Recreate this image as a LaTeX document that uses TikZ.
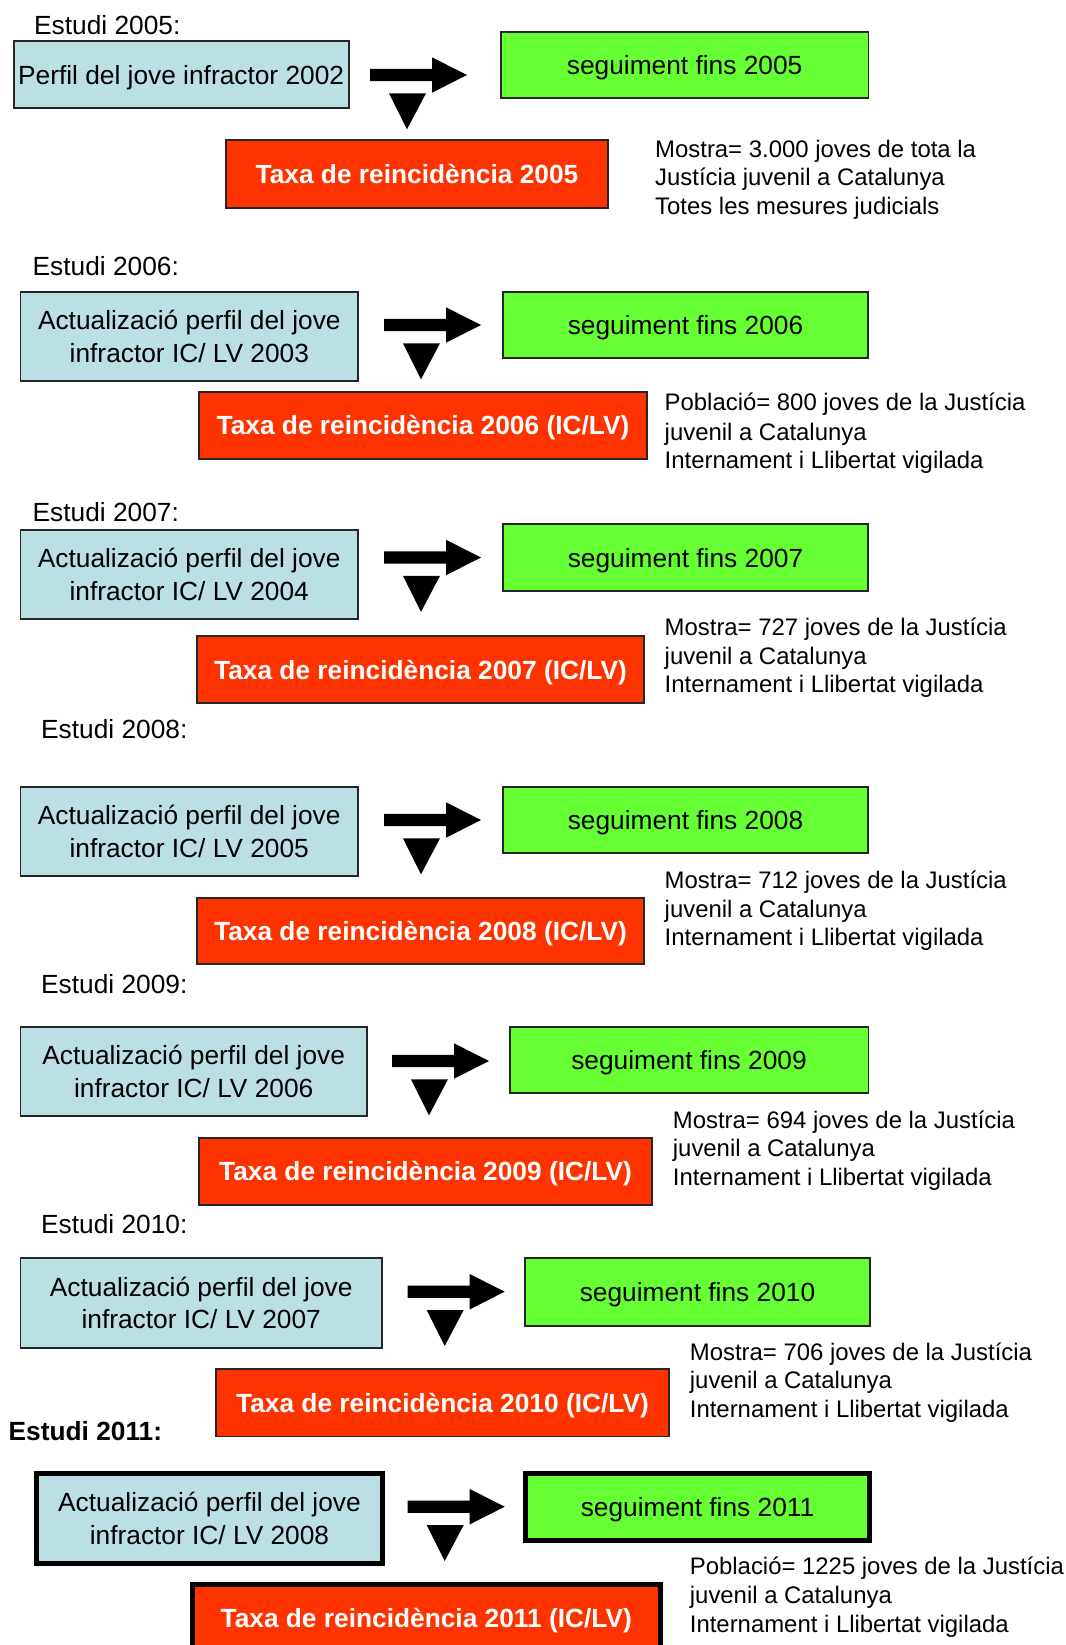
\documentclass[tikz,border=0pt]{standalone}
\usepackage{fontspec}
\setmainfont{Liberation Sans}
\definecolor{bluebox}{RGB}{187,224,227}
\definecolor{greenbox}{RGB}{102,255,51}
\definecolor{redbox}{RGB}{255,51,0}
\newcommand\bigfont{\fontsize{26.3pt}{32.6pt}\selectfont}
\newcommand\notefont{\fontsize{23.9pt}{28.5pt}\selectfont}
\tikzset{
  box/.style={draw=black!85, line width=1.8pt, inner sep=0pt, align=center,
    font=\bigfont, text height=19pt, text depth=0pt},
  twoline/.style={text height=51.6pt, text depth=0pt},
  bluebx/.style={box, fill=bluebox},
  greenbx/.style={box, fill=greenbox},
  redbx/.style={box, fill=redbox, text=white, font=\bigfont\bfseries},
  heavy/.style={line width=5pt, draw=black},
  lbl/.style={anchor=base west, inner sep=0pt, font=\bigfont},
  notel/.style={anchor=base west, inner sep=0pt, font=\notefont},
  blk/.style={fill=black}
}
% style, name, x1, y1, x2, y2, text
\newcommand\bx[7]{\node[#1, minimum width={#5-#3}, minimum height={#6-#4}] (#2) at ({(#3+#5)/2},{(#4+#6)/2}) {#7};}
% name, x, y1, y2, y3, l1, l2, l3
\newcommand\notelines[8]{%
  \node[notel] (#1-a) at (#2,#3) {#6};
  \node[notel] (#1-b) at (#2,#4) {#7};
  \node[notel] (#1-c) at (#2,#5) {#8};}
\newcommand\blockarrows[1]{%
  \fill[blk, shift={(#1)}] (0,-6.2) -- (62,-6.2) -- (62,-17.7) -- (97,0) -- (62,17.7) -- (62,6.2) -- (0,6.2) -- cycle;
  \fill[blk, shift={(#1)}] (19,18.3) -- (56,18.3) -- (37,54.3) -- cycle;}
\begin{document}
\begin{tikzpicture}[x=1pt,y=-1pt]
\useasboundingbox (0,0) rectangle (1065,1645);
\fill[white] (0,0) rectangle (1065,1645);

% ---------- 2005
\node[lbl] (e05) at (34,35) {Estudi 2005:};
\bx{bluebx}{b05}{13.6}{41}{348.6}{108.3}{Perfil del jove infractor 2002}
\bx{greenbx}{g05}{500.8}{32}{868.4}{98.3}{seguiment fins 2005}
\bx{redbx}{r05}{226}{140}{608}{208}{Taxa de reincidència 2005}
\coordinate (a05) at (370,75);
\blockarrows{a05}
\notelines{n05}{655}{157.6}{186}{214.3}{Mostra= 3.000 joves de tota la}{Justícia juvenil a Catalunya}{Totes les mesures judicials}

% ---------- 2006
\node[lbl] (e06) at (32.5,275.5) {Estudi 2006:};
\bx{bluebx,twoline}{b06}{20.4}{291.7}{358.3}{381}{Actualizació perfil del jove\\infractor IC/ LV 2003}
\bx{greenbx}{g06}{503}{291.7}{868}{358.3}{seguiment fins 2006}
\bx{redbx}{r06}{199}{391.7}{647}{459}{Taxa de reincidència 2006 (IC/LV)}
\coordinate (a06) at (384,325);
\blockarrows{a06}
\notelines{n06}{664.5}{410.5}{440}{468}{Població= 800 joves de la Justícia}{juvenil a Catalunya}{Internament i Llibertat vigilada}

% ---------- 2007
\node[lbl] (e07) at (32.5,521) {Estudi 2007:};
\bx{bluebx,twoline}{b07}{20.4}{530}{358}{619.3}{Actualizació perfil del jove\\infractor IC/ LV 2004}
\bx{greenbx}{g07}{503}{524.3}{868}{591}{seguiment fins 2007}
\bx{redbx}{r07}{197}{636}{644}{703.3}{Taxa de reincidència 2007 (IC/LV)}
\coordinate (a07) at (384,557.5);
\blockarrows{a07}
\notelines{n07}{664.5}{635}{664.4}{692.7}{Mostra= 727 joves de la Justícia}{juvenil a Catalunya}{Internament i Llibertat vigilada}

% ---------- 2008
\node[lbl] (e08) at (41,738.7) {Estudi 2008:};
\bx{bluebx,twoline}{b08}{20.4}{786.7}{358}{876}{Actualizació perfil del jove\\infractor IC/ LV 2005}
\bx{greenbx}{g08}{503}{786.7}{868}{853.3}{seguiment fins 2008}
\bx{redbx}{r08}{197}{897.7}{644}{964.3}{Taxa de reincidència 2008 (IC/LV)}
\coordinate (a08) at (384,820);
\blockarrows{a08}
\notelines{n08}{664.5}{888}{917.3}{945.6}{Mostra= 712 joves de la Justícia}{juvenil a Catalunya}{Internament i Llibertat vigilada}

% ---------- 2009
\node[lbl] (e09) at (41,993.6) {Estudi 2009:};
\bx{bluebx,twoline}{b09}{20.4}{1026.7}{367}{1116}{Actualizació perfil del jove\\infractor IC/ LV 2006}
\bx{greenbx}{g09}{509.6}{1026.7}{868.4}{1093.3}{seguiment fins 2009}
\bx{redbx}{r09}{199}{1137.7}{652}{1205}{Taxa de reincidència 2009 (IC/LV)}
\coordinate (a09) at (392,1061);
\blockarrows{a09}
\notelines{n09}{672.7}{1128.2}{1156.6}{1185}{Mostra= 694 joves de la Justícia}{juvenil a Catalunya}{Internament i Llibertat vigilada}

% ---------- 2010
\node[lbl] (e10) at (41,1233) {Estudi 2010:};
\bx{bluebx,twoline}{b10}{20.4}{1258.3}{382}{1347.7}{Actualizació perfil del jove\\infractor IC/ LV 2007}
\bx{greenbx}{g10}{525}{1258.3}{870}{1325.7}{seguiment fins 2010}
\bx{redbx}{r10}{216}{1369.3}{669}{1436.5}{Taxa de reincidència 2010 (IC/LV)}
\coordinate (a10) at (407.7,1291.7);
\blockarrows{a10}
\notelines{n10}{689.7}{1360}{1388.4}{1417.8}{Mostra= 706 joves de la Justícia}{juvenil a Catalunya}{Internament i Llibertat vigilada}

% ---------- 2011
\node[lbl, font=\bigfont\bfseries] (e11) at (8.4,1440.6) {Estudi 2011:};
\bx{bluebx,twoline,heavy}{b11}{36.5}{1473.2}{382.5}{1563.2}{Actualizació perfil del jove\\infractor IC/ LV 2008}
\bx{greenbx,heavy}{g11}{525.5}{1473.2}{869.5}{1540.8}{seguiment fins 2011}
\bx{redbx,heavy}{r11}{192.5}{1584.5}{660}{1651.5}{Taxa de reincidència 2011 (IC/LV)}
\coordinate (a11) at (407.7,1506.7);
\blockarrows{a11}
\notelines{n11}{689.7}{1574}{1603.6}{1632}{Població= 1225 joves de la Justícia}{juvenil a Catalunya}{Internament i Llibertat vigilada}
\end{tikzpicture}
\end{document}
